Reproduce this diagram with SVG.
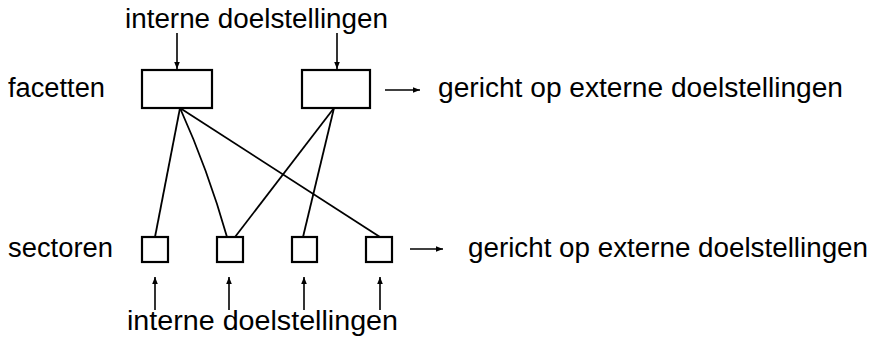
<svg xmlns="http://www.w3.org/2000/svg" width="876" height="342" viewBox="0 0 876 342">
<defs>
<style>
text{font-family:"Liberation Sans",Arial,sans-serif;font-size:27px;fill:#000}
.box{fill:#fff;stroke:#000;stroke-width:2.2}
.ln{fill:none;stroke:#000;stroke-width:1.8}
.ar{fill:none;stroke:#000;stroke-width:1.6}
</style>
<marker id="ah" viewBox="0 0 10 10" refX="10" refY="5" markerWidth="7" markerHeight="7" markerUnits="userSpaceOnUse" orient="auto">
<path d="M0,1 L10,5 L0,9 Z" fill="#000"/>
</marker>
</defs>
<rect width="876" height="342" fill="#fff"/>
<g id="labels">
<text x="125" y="28" textLength="263" lengthAdjust="spacingAndGlyphs">interne doelstellingen</text>
<text x="8" y="97" textLength="97" lengthAdjust="spacingAndGlyphs">facetten</text>
<text x="8" y="257" textLength="105" lengthAdjust="spacingAndGlyphs">sectoren</text>
<text x="127" y="330" textLength="271" lengthAdjust="spacingAndGlyphs">interne doelstellingen</text>
<text x="438" y="97" textLength="405" lengthAdjust="spacingAndGlyphs">gericht op externe doelstellingen</text>
<text x="468" y="257" textLength="400" lengthAdjust="spacingAndGlyphs">gericht op externe doelstellingen</text>
</g>
<g id="connectors">
<line class="ln" x1="180" y1="108" x2="155" y2="237"/>
<path class="ln" d="M180,108 Q208,170 227,237"/>
<line class="ln" x1="180" y1="108" x2="380" y2="237"/>
<line class="ln" x1="334" y1="108" x2="235" y2="237"/>
<line class="ln" x1="334" y1="108" x2="303" y2="237"/>
<line class="ar" x1="177" y1="33" x2="177" y2="69" marker-end="url(#ah)"/>
<line class="ar" x1="337" y1="33" x2="337" y2="69" marker-end="url(#ah)"/>
<line class="ar" x1="385" y1="90" x2="420" y2="90" marker-end="url(#ah)"/>
<line class="ar" x1="410" y1="249" x2="443" y2="249" marker-end="url(#ah)"/>
<line class="ar" x1="155" y1="310" x2="155" y2="277" marker-end="url(#ah)"/>
<line class="ar" x1="229" y1="310" x2="229" y2="277" marker-end="url(#ah)"/>
<line class="ar" x1="304" y1="310" x2="304" y2="277" marker-end="url(#ah)"/>
<line class="ar" x1="380" y1="310" x2="380" y2="277" marker-end="url(#ah)"/>
</g>
<g id="facet1"><rect class="box" x="142" y="70" width="70" height="38"/></g>
<g id="facet2"><rect class="box" x="302" y="70" width="68" height="38"/></g>
<g id="sector1"><rect class="box" x="142" y="237" width="26" height="25"/></g>
<g id="sector2"><rect class="box" x="217" y="237" width="26" height="25"/></g>
<g id="sector3"><rect class="box" x="292" y="237" width="25" height="25"/></g>
<g id="sector4"><rect class="box" x="366" y="237" width="26" height="25"/></g>
</svg>
